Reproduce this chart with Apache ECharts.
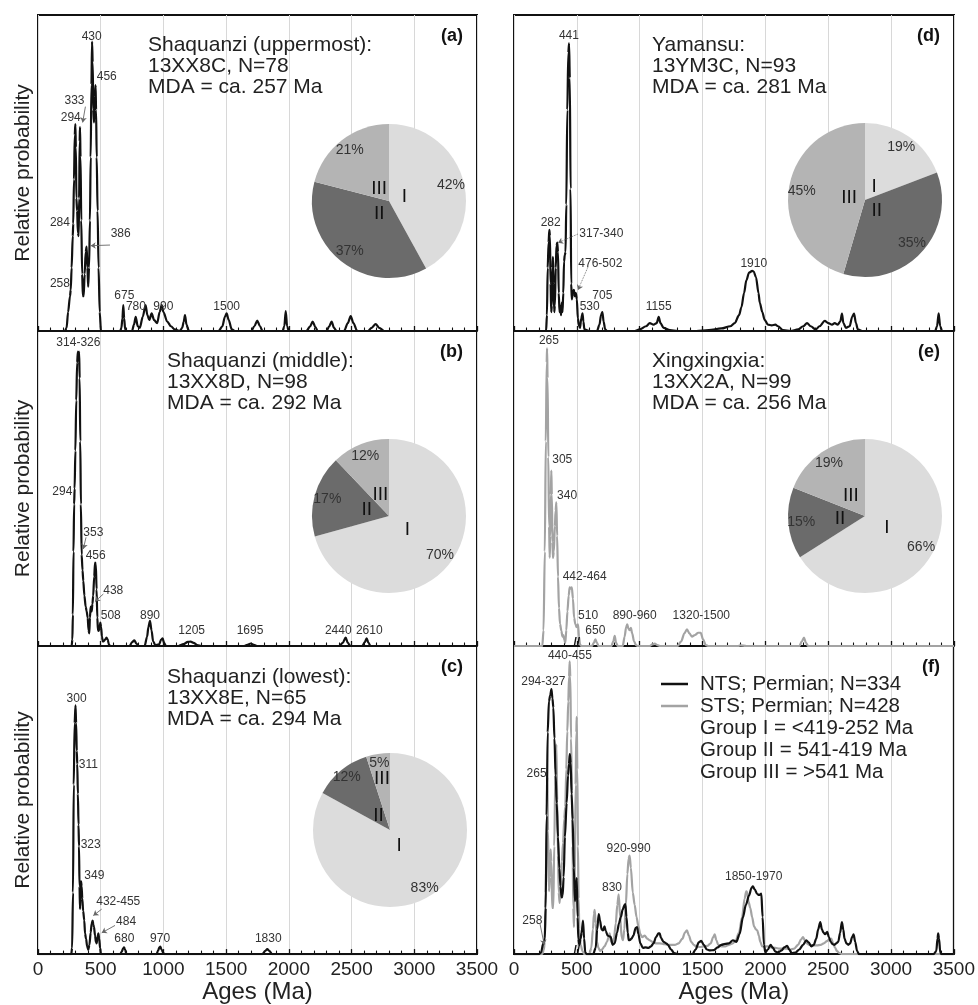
<!DOCTYPE html>
<html><head><meta charset="utf-8">
<script src="https://cdn.jsdelivr.net/npm/echarts@6/dist/echarts.min.js"></script>
<style>html,body{margin:0;padding:0;background:#fff}#c{width:978px;height:1005px}</style>
</head><body><div id="c"></div>
<script>
const FONT = 'Liberation Sans, Arial, Helvetica, sans-serif';
const groupNames = ['I', 'II', 'III'];
const xLabelValues = [0, 500, 1000, 1500, 2000, 2500, 3000, 3500];

// ---- probability density curves: [age (Ma), relative probability (%)] ----
const curveA = [[0,0],[215,0],[228,1],[240,6],[255,11],[261,13],[268,20],[277,30],[281,34],[287,48],[293,62],[298,65.5],[302,58],[306,42],[312,38],[318,31],[324,30],[328,42],[332,60],[335,64.5],[339,55],[345,35],[352,18],[358,11],[364,11],[372,18],[380,25],[388,26.7],[394,20],[400,14],[407,20],[414,35],[420,55],[426,78],[431,91.6],[436,85],[441,70],[447,66],[453,74],[459,77.8],[463,70],[468,55],[475,38],[483,20],[492,6],[502,0],[655,0],[665,1],[673,4],[680,8.2],[687,4],[695,0.5],[705,0],[750,0],[765,2],[779,4.5],[795,1.5],[812,1],[835,4.5],[858,8.2],[872,5],[888,3.5],[906,5.6],[925,3.5],[950,2.5],[970,6],[986,8.2],[1000,6],[1030,3],[1060,1.5],[1090,0.5],[1130,0],[1150,1],[1162,3],[1172,5],[1184,2],[1200,0.2],[1210,0],[1440,0],[1470,1.5],[1490,4.5],[1504,5.6],[1520,3.5],[1545,0.5],[1570,0],[1700,0],[1725,1.5],[1748,3.3],[1770,1.5],[1790,0],[1950,0],[1964,1.5],[1975,6.3],[1986,1.5],[2000,0],[2140,0],[2170,1.5],[2190,3],[2212,1.2],[2230,0],[2300,0],[2322,1.5],[2341,3],[2360,1],[2380,0],[2440,0],[2470,2.5],[2493,4.7],[2515,2.5],[2545,0],[2630,0],[2660,1],[2692,2.2],[2720,1],[2760,0],[3500,0]];
const curveB = [[0,0],[268,0],[274,2],[278,10],[283,30],[288,45],[292,50],[298,62],[305,78],[312,90],[318,93.5],[323,92.5],[328,93.5],[332,85],[337,65],[342,45],[348,29],[355,24],[361,20.7],[370,16],[380,12.5],[388,11],[396,9],[403,5],[409,4],[414,9],[420,12.5],[428,11],[434,13.4],[440,16],[448,22],[455,26.5],[461,26],[467,18],[473,9],[478,5],[483,4.8],[490,5.5],[497,7.4],[503,6],[510,3],[516,1.5],[523,1.5],[535,2],[546,2.7],[556,2],[565,0.5],[575,0],[730,0],[750,1.2],[768,1.8],[785,0.8],[800,0],[850,0],[870,3],[880,6],[893,8],[905,5],[918,1.5],[935,0.3],[965,0.5],[982,2],[994,2.4],[1005,1],[1020,0],[1120,0],[1160,0.6],[1195,1.3],[1217,1.4],[1240,1],[1270,0.3],[1300,0],[1640,0],[1670,0.4],[1696,0.8],[1720,0.4],[1750,0],[2400,0],[2430,1],[2453,2.7],[2470,1],[2490,0],[2585,0],[2605,1.2],[2620,2.4],[2635,1],[2650,0],[3500,0]];
const curveC = [[0,0],[265,0],[272,2],[279,20],[285,55],[292,75],[299,80.7],[304,75],[309,66],[313,61.7],[318,52],[323,42],[327,35],[331,22],[335,14.6],[339,20],[343,23.6],[348,22],[353,18],[360,14],[369,10.9],[375,6.7],[383,5],[392,2.5],[401,1.4],[410,3],[420,7],[428,10],[436,10.9],[441,9.5],[446,8.9],[455,6],[462,3.8],[468,3.5],[475,5.5],[481,6.7],[488,5],[495,2],[502,0],[655,0],[668,0.8],[678,1.8],[686,2.2],[694,1.5],[705,0],[945,0],[958,1.2],[968,2.2],[975,2.4],[985,1.5],[1000,0.3],[1010,0],[1790,0],[1810,1],[1828,1.6],[1846,1],[1865,0],[3500,0]];
const curveD = [[0,0],[255,0],[262,5],[268,20],[275,28],[281,32],[286,30],[291,15],[296,6],[301,8],[306,20],[310,23.5],[315,15],[320,6],[325,8],[332,20],[338,27],[344,28],[350,25],[356,12],[362,6],[368,8],[374,5],[380,9],[386,6],[392,12],[398,22],[404,24],[410,25],[416,40],[424,70],[432,88],[438,91],[444,80],[450,45],[455,15],[460,10],[468,12],[476,13],[484,11],[492,12],[500,10],[508,4],[515,2],[525,1],[535,4],[545,5.6],[552,3],[560,0.5],[600,0],[660,0],[680,2],[692,5],[703,6],[713,3],[725,0.5],[740,0],[960,0],[1000,0.5],[1050,1.5],[1080,2.5],[1110,2],[1135,2.5],[1151,4.5],[1165,2.5],[1190,1],[1240,0.3],[1300,0],[1450,0],[1550,0.3],[1650,0.8],[1720,1.5],[1756,2.5],[1790,5],[1809,7.5],[1830,12],[1848,16],[1870,18.5],[1895,19],[1907,18.8],[1925,17],[1945,12],[1955,9],[1975,6],[1994,3.5],[2020,2],[2050,1.8],[2079,2],[2100,1.5],[2140,0.3],[2200,0],[2260,0.5],[2300,1.5],[2331,2.5],[2360,1.5],[2400,0.5],[2430,1.5],[2472,3.2],[2500,2.5],[2530,2],[2551,2.5],[2575,2],[2595,3],[2609,5.5],[2620,2.5],[2640,1],[2670,1.5],[2690,4.5],[2705,5.5],[2720,2.5],[2735,0.5],[2770,0],[3350,0],[3365,1.5],[3378,5.6],[3390,1.5],[3405,0],[3500,0]];
const curveE = [[0,0],[225,0],[235,5],[245,30],[253,65],[260,90],[263,94.5],[267,85],[273,60],[279,38],[284,28],[289,35],[293,48],[297,55.7],[301,48],[306,33],[310,28],[317,30],[325,38],[331,43],[337,45.6],[343,35],[350,22],[358,12],[366,7],[377,4.8],[385,3],[392,3.5],[400,2],[408,1],[416,5],[425,11],[435,16],[443,18.6],[452,18.2],[460,18.6],[469,15],[478,9],[488,6.9],[498,6],[509,6.9],[517,3],[525,0.5],[535,0],[620,0],[635,1],[647,2.1],[660,1],[672,0],[775,0],[790,1.5],[801,3.2],[812,1],[825,0],[865,0],[880,3],[892,6],[901,6.9],[910,5.5],[920,5],[930,5.8],[940,4],[955,1.5],[970,0.3],[985,0],[1080,0],[1100,0.5],[1119,0.8],[1140,0.3],[1160,0],[1300,0],[1330,1.5],[1355,4],[1376,5.3],[1395,4],[1415,3],[1440,3.5],[1465,4.2],[1485,4.2],[1505,2],[1525,0.3],[1545,0],[1780,0],[1800,0.2],[1850,0],[2270,0],[2290,1.5],[2307,2.7],[2322,1],[2340,0],[3500,0]];
const curveF_NTS = [[0,0],[200,0],[215,0.5],[233,3.5],[245,5],[252,15],[260,45],[268,72],[278,82],[288,84],[298,86],[306,83],[313,80],[322,70],[331,58],[340,49],[350,38],[361,27.8],[370,22],[379,18.4],[387,19],[395,25],[405,38],[419,49],[430,58],[437,61.7],[444,64.9],[451,62],[458,52],[467,43.7],[476,28],[485,17.2],[492,21],[499,24.7],[506,12],[512,5],[520,3],[530,5],[538,7],[549,10.9],[558,5],[567,0.5],[580,0],[630,0],[650,2],[662,8],[674,13],[684,11],[697,8],[708,7.7],[720,9],[730,7.5],[745,6],[757,5.8],[769,5.6],[785,3],[801,3.5],[820,7],[835,10],[850,12],[865,14.5],[880,16],[886,16.2],[895,12],[905,7],[913,4.5],[920,4.5],[935,5],[950,6],[968,8.5],[979,8.8],[990,6.5],[1005,3.5],[1026,2],[1045,2.2],[1070,2],[1090,2.5],[1110,3.5],[1130,5.5],[1150,6.7],[1159,6.7],[1170,5.2],[1190,4],[1210,3.5],[1225,3],[1250,1.5],[1275,0.3],[1300,0],[1420,0],[1445,1.5],[1470,3.8],[1490,4.3],[1510,3],[1535,1.5],[1560,1.2],[1590,1.3],[1620,2.2],[1649,3],[1680,3.3],[1710,3.5],[1742,4.5],[1770,4],[1795,6.5],[1822,12],[1845,16],[1870,19],[1890,21.5],[1901,22],[1915,21],[1935,19.5],[1950,19.2],[1968,19.6],[1978,12],[1989,3],[2000,0.5],[2020,1.5],[2042,3],[2060,2],[2080,0.8],[2100,0.5],[2130,1.2],[2150,2.2],[2174,2.7],[2190,1.5],[2210,0.3],[2240,0.5],[2270,1.5],[2300,3],[2326,4.5],[2345,3.8],[2365,2.5],[2385,3],[2405,5],[2420,8],[2437,10.4],[2450,8],[2462,7],[2475,6.5],[2493,7.2],[2505,5.5],[2520,4],[2535,3.2],[2550,3],[2565,3.5],[2580,4],[2595,7],[2609,10.4],[2620,8],[2630,5],[2645,3.5],[2660,3],[2675,3.5],[2690,5.5],[2702,6.4],[2715,4],[2730,1],[2745,0],[3340,0],[3360,1],[3370,5],[3375,6.7],[3382,5],[3392,0.5],[3400,0],[3500,0]];
const curveF_STS = [[0,0],[225,0],[238,1.5],[244,4],[252,20],[260,45],[265,57.5],[271,40],[278,20.4],[285,25],[291,34],[297,30],[304,15],[313,15],[320,35],[330,60],[337,68],[344,50],[350,32],[356,20],[363,16.6],[372,22],[381,30],[390,36],[400,44],[408,47.8],[416,60],[424,72.3],[432,82],[438,90],[443,95],[448,90],[454,70],[461,53],[466,35],[472,15],[477,8.8],[483,20],[490,55],[496,72],[499,77],[504,60],[509,35],[514,18],[520,8],[530,3],[545,1],[560,0],[600,0],[615,2],[628,8],[636,13],[642,14.4],[650,10],[660,4],[672,2],[685,1],[700,1.5],[720,2.5],[740,4],[752,5.5],[761,6.7],[772,4],[782,3.5],[795,5],[810,10],[822,16],[833,19.4],[845,12],[856,5.5],[867,4.5],[878,8],[890,16],[902,26],[912,31],[920,32],[930,28],[945,20],[960,16],[975,12],[990,9],[1005,6.5],[1020,5.5],[1040,6],[1060,5],[1080,4.5],[1100,4],[1130,3.5],[1160,3.5],[1200,3.2],[1240,3],[1280,3],[1310,3.5],[1340,5],[1360,7],[1376,7.7],[1392,6],[1410,4],[1430,3],[1450,2.5],[1480,2.3],[1510,2.5],[1540,2.7],[1565,3.5],[1585,5.5],[1597,6.4],[1610,4.5],[1625,3],[1650,2.5],[1680,2.5],[1710,3],[1740,3.5],[1765,4.5],[1790,7],[1815,12],[1835,18],[1848,20.4],[1856,20],[1866,17],[1880,15],[1895,12],[1910,9],[1925,8],[1936,7.7],[1948,6],[1960,4],[1975,2.5],[1994,2.5],[2020,2.5],[2050,2.2],[2080,2],[2110,1.8],[2140,1.8],[2170,1.8],[2200,1.5],[2230,1.8],[2260,3],[2285,4.8],[2299,5.5],[2315,4.5],[2330,3.5],[2350,3],[2380,2.8],[2410,2.8],[2440,3],[2465,3.5],[2490,4.2],[2510,4.8],[2524,5],[2540,3.5],[2555,2],[2570,1],[2590,0.3],[2610,0],[3500,0]];

// ---- peak annotations: [age, prob (label centre), text] ----
const peaksA = [[428,93.1,'430'],[548,80.5,'456'],[291,72.8,'333'],[261,67.6,'294'],[175,34.3,'284'],[659,30.7,'386'],[175,15.1,'258'],[688,11.1,'675'],[781,7.7,'780'],[999,7.7,'990'],[1504,7.7,'1500']];
const peaksB = [[322,96.4,'314-326'],[194,49,'294'],[441,35.9,'353'],[460,28.6,'456'],[600,17.7,'438'],[580,9.6,'508'],[893,9.6,'890'],[1225,5,'1205'],[1690,5,'1695'],[2394,5,'2440'],[2641,5,'2610']];
const peaksC = [[308,82.9,'300'],[401,61.5,'311'],[420,35.5,'323'],[449,25.5,'349'],[640,17,'432-455'],[702,10.6,'484'],[688,4.9,'680'],[973,4.9,'970'],[1836,4.9,'1830']];
const peaksD = [[437,93.4,'441'],[292,34.3,'282'],[695,30.7,'317-340'],[687,21.4,'476-502'],[703,11.2,'705'],[602,7.7,'530'],[1151,7.7,'1155'],[1907,21.4,'1910']];
const peaksE = [[278,96.8,'265'],[384,59.2,'305'],[422,47.8,'340'],[562,22,'442-464'],[589,9.6,'510'],[647,5,'650'],[960,9.6,'890-960'],[1490,9.6,'1320-1500']];
const peaksF = [[445,96.8,'440-455'],[233,88.3,'294-327'],[180,58.5,'265'],[146,10.7,'258'],[912,34.2,'920-990'],[780,21.7,'830'],[1907,25.2,'1850-1970']];

// ---- leader lines: [[fromAge, fromProb], [toAge, toProb]] ----
const leadersA = [[[378,71],[356,66]],[[574,27.2],[420,27]]];
const leadersB = [[[383,34.5],[361,30.8]],[[521,16.5],[454,14.1]]];
const leadersC = [[[508,14.6],[441,12.5]],[[614,9.3],[508,6.9]]];
const leadersD = [[[509,30.7],[350,27.9]],[[589,20.3],[509,13]]];
const leadersF = [[[207,9.8],[241,3]]];

// ---- pie percentages: groups I, II, III ----
const pieA = [42, 37, 21];
const pieB = [70, 17, 12];
const pieC = [83, 12, 5];
const pieD = [19, 35, 45];
const pieE = [66, 15, 19];

// ---- panel texts ----
const textA = ['Shaquanzi (uppermost):', '13XX8C, N=78', 'MDA = ca. 257 Ma'];
const textB = ['Shaquanzi (middle):', '13XX8D, N=98', 'MDA = ca. 292 Ma'];
const textC = ['Shaquanzi (lowest):', '13XX8E, N=65', 'MDA = ca. 294 Ma'];
const textD = ['Yamansu:', '13YM3C, N=93', 'MDA = ca. 281 Ma'];
const textE = ['Xingxingxia:', '13XX2A, N=99', 'MDA = ca. 256 Ma'];
const legendF = ['NTS; Permian; N=334', 'STS; Permian; N=428', 'Group I = <419-252 Ma', 'Group II = 541-419 Ma', 'Group III = >541 Ma'];
const panelLetters = ['(a)', '(b)', '(c)', '(d)', '(e)', '(f)'];

// ------------------------------------------------------------------
const BLACK = '#111111', GREY = '#a3a3a3';
const pieColors = ['#dcdcdc', '#6b6b6b', '#b4b4b4'];
const grids = [
  {left:38, top:15, width:439, height:316},
  {left:38, top:331, width:439, height:315},
  {left:38, top:646, width:439, height:315},
  {left:514, top:15, width:440, height:316},
  {left:514, top:331, width:440, height:315},
  {left:514, top:646, width:440, height:315}
].map(g => Object.assign({show:true, borderColor:BLACK, borderWidth:2, backgroundColor:'transparent'}, g));

const bottomPanels = [2, 5];
const leftPanels = [0, 1, 2];

const xAxes = grids.map((g, i) => ({
  type:'value', gridIndex:i, min:0, max:3500, interval:500,
  axisLine:{show:true, onZero:false, lineStyle:{color:BLACK, width:2}},
  axisTick:{show:true, inside:true, length:5, lineStyle:{color:BLACK, width:1.3}},
  minorTick:{show:true, splitNumber:5, length:3.5, lineStyle:{color:BLACK, width:1.1}},
  splitLine:{show:true, lineStyle:{color:'#d8d8d8', width:1}},
  axisLabel:{show:bottomPanels.includes(i), fontSize:19, color:'#222', margin:6, fontFamily:FONT,
             formatter:v => xLabelValues.includes(v) ? String(v) : ''},
  name: bottomPanels.includes(i) ? 'Ages (Ma)' : '',
  nameLocation:'middle', nameGap:23,
  nameTextStyle:{fontSize:24, color:'#222', fontFamily:FONT}
}));
const yAxes = grids.map((g, i) => ({
  type:'value', gridIndex:i, min:0, max:100,
  axisLine:{show:false}, axisTick:{show:false}, axisLabel:{show:false}, splitLine:{show:false},
  name: leftPanels.includes(i) ? 'Relative probability' : '',
  nameLocation:'middle', nameGap:4, nameRotate:90,
  nameTextStyle:{fontSize:21, color:'#222', fontFamily:FONT}
}));

function markPoints(peaks, extra) {
  const data = peaks.map(p => ({coord:[p[0], p[1]], name:p[2]}));
  return {
    symbol:'circle', symbolSize:1, silent:true, animation:false,
    itemStyle:{color:'rgba(0,0,0,0)'},
    label:{show:true, position:'inside', formatter:'{b}', fontSize:12, color:'#333', fontFamily:FONT},
    data: data.concat(extra || [])
  };
}
function markLines(leaders, dotted) {
  return {
    silent:true, animation:false, symbol:['none','arrow'], symbolSize:5,
    label:{show:false},
    lineStyle:{color:'#666', width:0.9, type: dotted ? 'dotted' : 'solid', curveness:0.35},
    data: (leaders || []).map(l => [{coord:l[0]}, {coord:l[1]}])
  };
}
const breakMark = [{coord:[500, 1.2], name:'//', label:{fontSize:12, fontWeight:'bold', color:'#111'}}];

function lineSeries(i, data, color, peaks, leaders, opts) {
  opts = opts || {};
  const s = {
    type:'line', xAxisIndex:i, yAxisIndex:i, data:data, showSymbol:false, symbol:'none',
    smooth:0.3, smoothMonotone:'x', animation:false, silent:true,
    lineStyle:{color:color, width:2.2}, z:3
  };
  if (peaks) s.markPoint = markPoints(peaks, opts.extra);
  if (leaders) s.markLine = markLines(leaders, opts.dotted);
  return s;
}

// numHide: groups whose numeral is too wide for its thin slice (drawn separately)
function pieSeries(center, vals, pctRadius, numRadius, numHide) {
  const base = {type:'pie', center:center, startAngle:90, clockwise:true, silent:true, animation:false,
                labelLine:{show:false}, avoidLabelOverlap:false};
  const out = [];
  out.push(Object.assign({}, base, {
    radius:77, z:4,
    label:{show:false},
    data: vals.map((v,k) => ({value:v, name:groupNames[k], itemStyle:{color:pieColors[k]}}))
  }));
  out.push(Object.assign({}, base, {
    radius:pctRadius, z:5,
    label:{show:true, position:'inside', formatter:'{c}%', fontSize:14, color:'#333', fontFamily:FONT},
    data: vals.map((v,k) => ({value:v, name:groupNames[k], itemStyle:{color:'rgba(0,0,0,0)'}}))
  }));
  out.push(Object.assign({}, base, {
    radius:numRadius, z:6,
    label:{show:true, position:'inside', formatter:'{b}', fontSize:19, color:'#111', fontFamily:FONT},
    data: vals.map((v,k) => ({value:v, name:groupNames[k], itemStyle:{color:'rgba(0,0,0,0)'},
                              label:{show: !(numHide && numHide.includes(k))}}))
  }));
  return out;
}

const pieCenterC = [390, 830];
const series = [
  lineSeries(0, curveA, BLACK, peaksA, leadersA),
  lineSeries(1, curveB, BLACK, peaksB, leadersB),
  lineSeries(2, curveC, BLACK, peaksC, leadersC),
  lineSeries(3, curveD, BLACK, peaksD, leadersD, {dotted:true}),
  lineSeries(4, curveE, GREY, peaksE, null, {extra:breakMark}),
  lineSeries(5, curveF_STS, GREY, null, null),
  lineSeries(5, curveF_NTS, BLACK, peaksF, leadersF, {extra:breakMark})
].concat(
  pieSeries([389, 201], pieA, 122, 26),
  pieSeries([389, 516], pieB, 122, 40),
  pieSeries(pieCenterC, pieC, 130, 30, [2]),
  pieSeries([865, 200], pieD, 122, 26),
  pieSeries([865, 516], pieE, 122, 44)
);

// ---- graphic texts ----
const graphic = [];
function block(lines, x, y, size, lh) {
  graphic.push({type:'text', x:x, y:y, silent:true, z:10,
    style:{text:lines.join('\n'), fontSize:size, lineHeight:lh, fontFamily:FONT, fill:'#222', align:'left', verticalAlign:'top'}});
}
block(textA, 148, 35, 21, 21);
block(textB, 167, 351, 21, 21);
block(textC, 167, 667, 21, 21);
block(textD, 652, 35, 21, 21);
block(textE, 652, 351, 21, 21);
const letterPos = [[463,27],[463,343],[463,658],[940,27],[940,343],[940,658]];
panelLetters.forEach((t, i) => graphic.push({type:'text', x:letterPos[i][0], y:letterPos[i][1], silent:true, z:10,
  style:{text:t, fontSize:18, fontWeight:'bold', fontFamily:FONT, fill:'#111', align:'right', verticalAlign:'top'}}));
// group III numeral of panel (c): its 5 % slice is too thin for an inside pie label
graphic.push({type:'text', x:pieCenterC[0] - 8, y:pieCenterC[1] - 51, silent:true, z:10,
  style:{text:groupNames[2], fontSize:19, fontFamily:FONT, fill:'#111', align:'center', verticalAlign:'middle'}});
// legend of panel (f)
const legY = [684, 706, 728, 750, 772.5];
graphic.push({type:'line', silent:true, z:10, shape:{x1:661, y1:legY[0], x2:688, y2:legY[0]}, style:{stroke:BLACK, lineWidth:2.5}});
graphic.push({type:'line', silent:true, z:10, shape:{x1:661, y1:legY[1], x2:688, y2:legY[1]}, style:{stroke:GREY, lineWidth:2.5}});
legendF.forEach((t, k) => graphic.push({type:'text', x:700, y:legY[k], silent:true, z:10,
  style:{text:t, fontSize:20.5, fontFamily:FONT, fill:'#222', align:'left', verticalAlign:'middle'}}));

const chart = echarts.init(document.getElementById('c'), null, {renderer:'canvas'});
chart.setOption({
  animation:false,
  backgroundColor:'#ffffff',
  textStyle:{fontFamily:FONT},
  grid:grids, xAxis:xAxes, yAxis:yAxes, series:series, graphic:graphic
});
</script>
</body></html>
